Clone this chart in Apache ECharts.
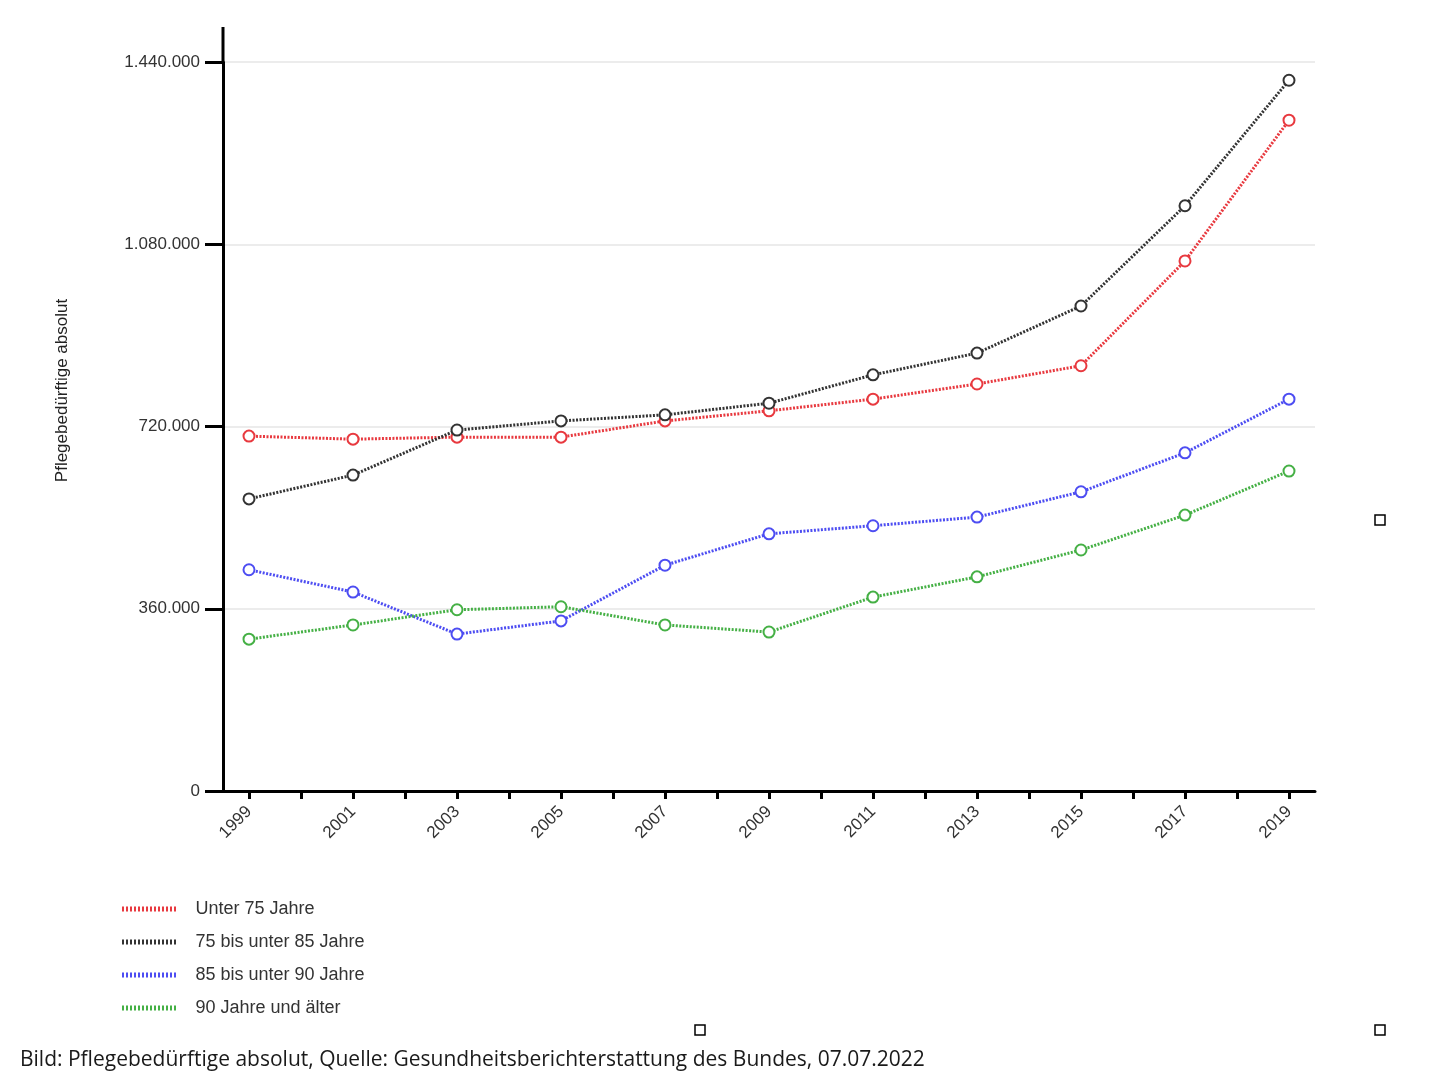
<!DOCTYPE html>
<html>
<head>
<meta charset="utf-8">
<script src="https://cdn.jsdelivr.net/npm/echarts@6/dist/echarts.min.js"></script>
<style>
html,body{margin:0;padding:0;background:#fff;}
#c{width:1430px;height:1084px;}
</style>
</head>
<body>
<div id="c"></div>
<script>
const years = ['1999','2000','2001','2002','2003','2004','2005','2006','2007','2008','2009','2010','2011','2012','2013','2014','2015','2016','2017','2018','2019'];
const dataYears = ['1999','2001','2003','2005','2007','2009','2011','2013','2015','2017','2019'];
const seriesNames = ['Unter 75 Jahre','75 bis unter 85 Jahre','85 bis unter 90 Jahre','90 Jahre und älter'];
const unter75 = [701000, 695000, 699000, 699000, 731000, 751000, 774000, 804000, 840000, 1047000, 1325000];
const von75bis85 = [577000, 624000, 713000, 731000, 743000, 766000, 822000, 865000, 958000, 1156000, 1404000];
const von85bis90 = [437000, 393000, 310000, 336000, 446000, 508000, 524000, 541000, 591000, 668000, 774000];
const ab90 = [300000, 328000, 358000, 364000, 328000, 314000, 383000, 423000, 476000, 545000, 632000];
const yTicks = [0, 360000, 720000, 1080000, 1440000];
const colors = ['#e8393f', '#333333', '#4d4df2', '#45b045'];
const caption = 'Bild: Pflegebedürftige absolut, Quelle: Gesundheitsberichterstattung des Bundes, 07.07.2022';
const yName = 'Pflegebedürftige absolut';

const chart = echarts.init(document.getElementById('c'));
const allValues = [unter75, von75bis85, von85bis90, ab90];

function fmt(v){ return String(v).replace(/\B(?=(\d{3})+(?!\d))/g, '.'); }

let dotPath = 'path://';
for (let i = 0; i < 14; i++) { dotPath += 'M' + (i*4) + ' 0L' + (i*4+2) + ' 0L' + (i*4+2) + ' 5L' + (i*4) + ' 5Z '; }

const series = seriesNames.map((n, si) => ({
  name: n,
  type: 'line',
  data: dataYears.map((y, i) => [y, allValues[si][i]]),
  symbol: 'emptyCircle',
  symbolSize: 11,
  lineStyle: { color: colors[si], width: 3, type: [2, 1.5] },
  itemStyle: { color: colors[si], borderColor: colors[si], borderWidth: 2 },
  emphasis: { disabled: true },
  z: 2 + si
}));

const option = {
  animation: false,
  backgroundColor: '#fff',
  textStyle: { fontFamily: 'Liberation Sans, Arial, sans-serif' },
  grid: { left: 223, right: 115, top: 62, bottom: 293, containLabel: false },
  legend: {
    orient: 'vertical',
    left: 117,
    top: 895,
    icon: dotPath,
    itemWidth: 55,
    itemHeight: 5,
    itemGap: 15,
    data: seriesNames,
    itemStyle: { borderWidth: 0 },
    lineStyle: { width: 0 },
    textStyle: { fontSize: 18, color: '#333', padding: [0, 0, 0, 14], fontFamily: 'Liberation Sans, Arial, sans-serif' },
    selectedMode: false
  },
  title: {
    text: caption,
    left: 15,
    top: 1045,
    textStyle: { fontSize: 21, fontWeight: 'normal', color: '#1a1a1a', fontFamily: 'Open Sans, sans-serif' }
  },
  xAxis: {
    type: 'category',
    data: years,
    boundaryGap: true,
    axisLine: { lineStyle: { color: '#000', width: 3 } },
    axisTick: { show: true, interval: 0, alignWithLabel: true, length: 8, lineStyle: { color: '#000', width: 3 } },
    axisLabel: { interval: 1, rotate: 45, fontSize: 17, color: '#333', margin: 18 },
    splitLine: { show: false }
  },
  yAxis: {
    type: 'value',
    min: yTicks[0],
    max: yTicks[yTicks.length - 1],
    interval: yTicks[1] - yTicks[0],
    name: yName,
    nameLocation: 'middle',
    nameRotate: 90,
    nameGap: 152,
    nameTextStyle: { fontSize: 17, color: '#222', padding: [0, 0, 0, 72] },
    axisLine: { show: true, lineStyle: { color: '#000', width: 3 } },
    axisTick: { show: true, length: 18, lineStyle: { color: '#000', width: 3 } },
    axisLabel: { fontSize: 17, color: '#333', margin: 23, formatter: fmt },
    splitLine: { show: true, lineStyle: { color: '#ececec', width: 2 } }
  },
  graphic: [
    { type: 'line', shape: { x1: 223, y1: 27, x2: 223, y2: 63 }, style: { stroke: '#000', lineWidth: 3 } },
    { type: 'rect', shape: { x: 1375, y: 515, width: 10, height: 10 }, style: { fill: '#fff', stroke: '#000', lineWidth: 1.5 } },
    { type: 'rect', shape: { x: 695, y: 1025, width: 10, height: 10 }, style: { fill: '#fff', stroke: '#000', lineWidth: 1.5 } },
    { type: 'rect', shape: { x: 1375, y: 1025, width: 10, height: 10 }, style: { fill: '#fff', stroke: '#000', lineWidth: 1.5 } }
  ],
  series: series
};
chart.setOption(option);
</script>
</body>
</html>
